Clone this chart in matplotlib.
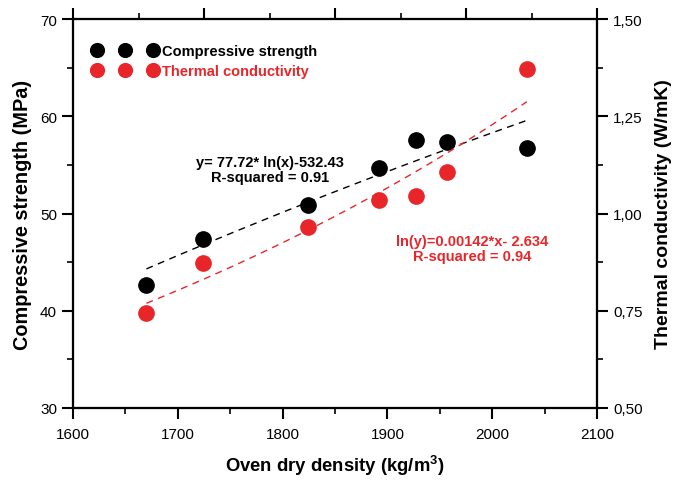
import numpy as np
import matplotlib
matplotlib.use("Agg")
import matplotlib.pyplot as plt
from matplotlib.ticker import MultipleLocator

plt.rcParams["font.family"] = ["Liberation Sans", "DejaVu Sans"]

# data
density = [1670, 1724, 1824, 1892, 1927, 1957, 2033]
strength = [42.6, 47.4, 50.9, 54.7, 57.6, 57.4, 56.7]
conductivity = [0.745, 0.872, 0.966, 1.035, 1.046, 1.108, 1.372]

# fitted curves as written on the chart
fit_a, fit_b = 77.72, -532.43          # y = a*ln(x) + b
fit_c, fit_d = 0.00142, -2.634         # ln(y) = c*x + d

red = "#e8262a"

fig = plt.figure(figsize=(6.85, 4.81), dpi=100)
ax = fig.add_axes([0.1066, 0.150, 0.7650, 0.808])
ax2 = ax.twinx()
ax3 = ax.twiny()

xf = np.linspace(min(density), max(density), 100)
ax.plot(xf, fit_a * np.log(xf) + fit_b, ls=(0, (5, 4)), color="black", lw=1.0)
ax2.plot(xf, np.exp(fit_c * xf + fit_d), ls=(0, (5, 4)), color=red, lw=1.0)

l1, = ax.plot(density, strength, "o", color="black", ms=11, ls="none",
              label="Compressive strength")
l2, = ax2.plot(density, conductivity, "o", color=red, ms=11, ls="none",
               label="Thermal conductivity")

ax.set_xlim(1600, 2100)
ax.set_ylim(30, 70)
ax2.set_ylim(0.5, 1.5)
ax3.set_xlim(0, 1)

ax.xaxis.set_major_locator(MultipleLocator(100))
ax.xaxis.set_minor_locator(MultipleLocator(50))
ax.yaxis.set_major_locator(MultipleLocator(10))
ax.yaxis.set_minor_locator(MultipleLocator(5))
ax2.yaxis.set_major_locator(MultipleLocator(0.25))
ax2.yaxis.set_minor_locator(MultipleLocator(0.125))
ax2.yaxis.set_major_formatter(plt.FuncFormatter(lambda v, p: f"{v:.2f}".replace(".", ",")))
ax3.xaxis.set_major_locator(MultipleLocator(0.25))
ax3.xaxis.set_minor_locator(MultipleLocator(0.125))
ax3.set_xticklabels([])

for a in (ax, ax2, ax3):
    for s in a.spines.values():
        s.set_linewidth(1.5)
    a.tick_params(which="major", direction="out", length=8, width=1.5, labelsize=11)
    a.tick_params(which="minor", direction="out", length=4, width=1.2)
ax.tick_params(axis="x", pad=6)

ax.set_xlabel("Oven dry density (kg/m$^\\mathregular{3}$)", fontsize=13.3, fontweight="bold", labelpad=8)
ax.set_ylabel("Compressive strength (MPa)", fontsize=14.3, fontweight="bold", labelpad=6)
ax2.set_ylabel("Thermal conductivity (W/mK)", fontsize=14, fontweight="bold", labelpad=9)

ax.text(1788, 54.5, "y= 77.72* ln(x)-532.43\nR-squared = 0.91", ha="center", va="center",
        fontsize=10.5, fontweight="bold", color="black", linespacing=1.1)
ax.text(1981, 46.4, "ln(y)=0.00142*x- 2.634\nR-squared = 0.94", ha="center", va="center",
        fontsize=10.5, fontweight="bold", color=red, linespacing=1.1)

leg = ax2.legend(handles=[l1, l2], loc="upper left", bbox_to_anchor=(0.0374, 0.935),
                 borderaxespad=0, borderpad=0,
                 numpoints=3, frameon=False, handlelength=4.44, handletextpad=0.3,
                 markerscale=0.9, labelspacing=0.4, prop={"weight": "bold", "size": 10.5})
for t, c in zip(leg.get_texts(), ["black", red]):
    t.set_color(c)

fig.savefig("out.png", dpi=100)
